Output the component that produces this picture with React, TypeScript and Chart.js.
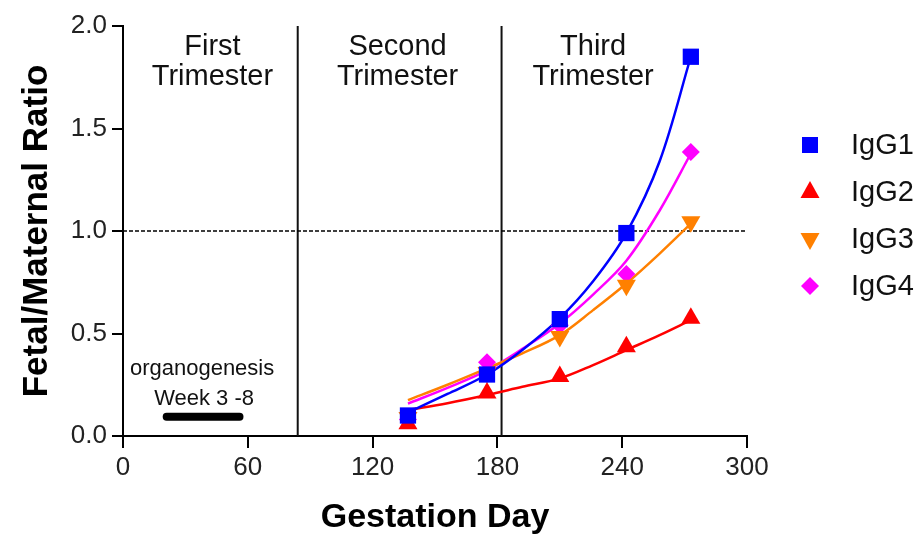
import React, { useEffect, useRef } from 'react';
import { Chart, registerables } from 'chart.js';

Chart.register(...registerables);

// Measured data (gestation day vs fetal/maternal ratio)
const days = [137, 175, 210, 242, 273];
const igg1 = [0.10, 0.30, 0.57, 0.99, 1.85];
const igg2 = [0.06, 0.21, 0.29, 0.435, 0.575];
const igg3 = [0.09, 0.31, 0.485, 0.735, 1.045];
const igg4 = [0.08, 0.36, 0.54, 0.79, 1.385];

// Fitted curves
const fitDays = [137, 156, 175, 192, 210, 226, 242, 258, 273];
const fit1 = [0.115, 0.205, 0.30, 0.42, 0.575, 0.755, 0.99, 1.34, 1.85];
const fit2 = [0.127, 0.16, 0.20, 0.24, 0.281, 0.346, 0.419, 0.492, 0.565];
const fit3 = [0.175, 0.25, 0.33, 0.403, 0.492, 0.614, 0.744, 0.89, 1.036];
const fit4 = [0.158, 0.235, 0.32, 0.425, 0.549, 0.69, 0.855, 1.1, 1.378];

const seriesNames = ['IgG1', 'IgG2', 'IgG3', 'IgG4'];
const seriesColors = ['#0000FF', '#FF0000', '#FF8000', '#FF00FF'];

const trimesterBounds = [84, 182];
const trimesterCenters = [43, 132, 226];
const trimesterLabels = [['First', 'Trimester'], ['Second', 'Trimester'], ['Third', 'Trimester']];
const organogenesisDays = [21, 56];
const organogenesisLevel = 0.094;
const organogenesisText = ['organogenesis', 'Week 3 -8'];
const referenceRatio = 1.0;

const xTicks = { min: 0, max: 300, step: 60 };
const yTicks = { min: 0, max: 2, step: 0.5 };

const FONT = '"Liberation Sans", Arial, Helvetica, sans-serif';

const pts = (xs: number[], ys: number[]) => xs.map((x, i) => ({ x, y: ys[i] }));

function drawMarker(ctx: CanvasRenderingContext2D, kind: number, x: number, y: number, color: string) {
  ctx.save();
  ctx.fillStyle = color;
  ctx.beginPath();
  if (kind === 0) {
    ctx.rect(x - 8, y - 8, 16, 16);
  } else if (kind === 1) {
    ctx.moveTo(x, y - 11);
    ctx.lineTo(x + 9.5, y + 6);
    ctx.lineTo(x - 9.5, y + 6);
  } else if (kind === 2) {
    ctx.moveTo(x, y + 11);
    ctx.lineTo(x + 9.5, y - 6);
    ctx.lineTo(x - 9.5, y - 6);
  } else {
    ctx.moveTo(x, y - 9);
    ctx.lineTo(x + 9, y);
    ctx.lineTo(x, y + 9);
    ctx.lineTo(x - 9, y);
  }
  ctx.closePath();
  ctx.fill();
  ctx.restore();
}

const annotPlugin = {
  id: 'annot',
  afterDatasetsDraw(chart: any) {
    const { ctx, scales } = chart;
    const x = scales.x;
    ctx.save();
    ctx.fillStyle = '#111';
    ctx.textAlign = 'center';
    ctx.textBaseline = 'alphabetic';
    ctx.font = `29px ${FONT}`;
    trimesterLabels.forEach((lab, i) => {
      const cx = x.getPixelForValue(trimesterCenters[i]);
      ctx.fillText(lab[0], cx, 55);
      ctx.fillText(lab[1], cx, 85);
    });
    ctx.font = `22px ${FONT}`;
    const oc = x.getPixelForValue((organogenesisDays[0] + organogenesisDays[1]) / 2);
    ctx.fillText(organogenesisText[0], oc - 1, 375);
    ctx.fillText(organogenesisText[1], oc + 1, 405);

    // legend
    ctx.textAlign = 'left';
    ctx.textBaseline = 'middle';
    ctx.font = `29px ${FONT}`;
    seriesNames.forEach((name, i) => {
      const cy = 145 + i * 47;
      drawMarker(ctx, i, 810, cy, seriesColors[i]);
      ctx.fillStyle = '#111';
      ctx.fillText(name, 851, cy + 1);
    });
    ctx.restore();
  },
};

export default function App() {
  const ref = useRef<HTMLCanvasElement | null>(null);

  useEffect(() => {
    if (!ref.current) return;
    Chart.defaults.font.family = FONT;

    const markerDatasets = [igg1, igg2, igg3, igg4].map((vals, i) => ({
      label: seriesNames[i],
      data: pts(days, vals),
      showLine: false,
      pointStyle: ['rect', 'triangle', 'triangle', 'rectRot'][i],
      rotation: i === 2 ? 180 : 0,
      pointRadius: [11.5, 11, 11, 9][i],
      pointBackgroundColor: seriesColors[i],
      pointBorderColor: seriesColors[i],
      pointBorderWidth: 0,
      borderColor: seriesColors[i],
      backgroundColor: seriesColors[i],
    }));

    const fitDatasets = [fit1, fit2, fit3, fit4].map((vals, i) => ({
      label: seriesNames[i] + ' fit',
      data: pts(fitDays, vals),
      showLine: true,
      pointRadius: 0,
      borderColor: seriesColors[i],
      borderWidth: 2.5,
      tension: 0.35,
      fill: false,
    }));

    const refLines = [
      {
        label: 'ref',
        data: [{ x: xTicks.min, y: referenceRatio }, { x: xTicks.max, y: referenceRatio }],
        showLine: true,
        pointRadius: 0,
        borderColor: '#000',
        borderWidth: 1.5,
        borderDash: [4, 2],
      },
      ...trimesterBounds.map((d) => ({
        label: 'tri',
        data: [{ x: d, y: yTicks.min }, { x: d, y: yTicks.max }],
        showLine: true,
        pointRadius: 0,
        borderColor: '#111',
        borderWidth: 2,
      })),
      {
        label: 'organo',
        data: [{ x: organogenesisDays[0], y: organogenesisLevel }, { x: organogenesisDays[1], y: organogenesisLevel }],
        showLine: true,
        pointRadius: 0,
        borderColor: '#000',
        borderWidth: 8,
        borderCapStyle: 'round' as const,
      },
    ];

    const chart = new Chart(ref.current, {
      type: 'scatter',
      data: { datasets: [...markerDatasets, ...fitDatasets, ...refLines] as any },
      options: {
        responsive: false,
        animation: false,
        devicePixelRatio: 1,
        layout: { padding: { top: 26, right: 175, bottom: 0, left: 0 } },
        plugins: { legend: { display: false }, tooltip: { enabled: false } },
        scales: {
          x: {
            type: 'linear',
            min: xTicks.min,
            max: xTicks.max,
            ticks: { stepSize: xTicks.step, font: { size: 26 }, color: '#222', padding: 4, maxRotation: 0, autoSkip: false },
            grid: { drawOnChartArea: false, drawTicks: true, tickLength: 12, color: '#000', lineWidth: 2 },
            border: { display: true, color: '#000', width: 2 },
            title: { display: true, text: 'Gestation Day', font: { size: 34, weight: 'bold', lineHeight: 1 }, color: '#000', padding: { top: 0, bottom: 1 } },
            afterFit(s: any) { s.height = 100; },
          },
          y: {
            type: 'linear',
            min: yTicks.min,
            max: yTicks.max,
            ticks: { stepSize: yTicks.step, font: { size: 26 }, color: '#222', padding: 5, callback: (v: any) => Number(v).toFixed(1) },
            grid: { drawOnChartArea: false, drawTicks: true, tickLength: 11, color: '#000', lineWidth: 2 },
            border: { display: true, color: '#000', width: 2 },
            title: { display: true, text: 'Fetal/Maternal Ratio', font: { size: 35, weight: 'bold', lineHeight: 1 }, color: '#000', padding: { top: 20, bottom: 0 } },
            afterFit(s: any) { s.width = 123; },
          },
        },
      } as any,
      plugins: [annotPlugin],
    });
    return () => chart.destroy();
  }, []);

  return (
    <div style={{ position: 'fixed', left: 0, top: 0, width: 922, height: 536, background: '#fff' }}>
      <canvas ref={ref} width={922} height={536} />
    </div>
  );
}
